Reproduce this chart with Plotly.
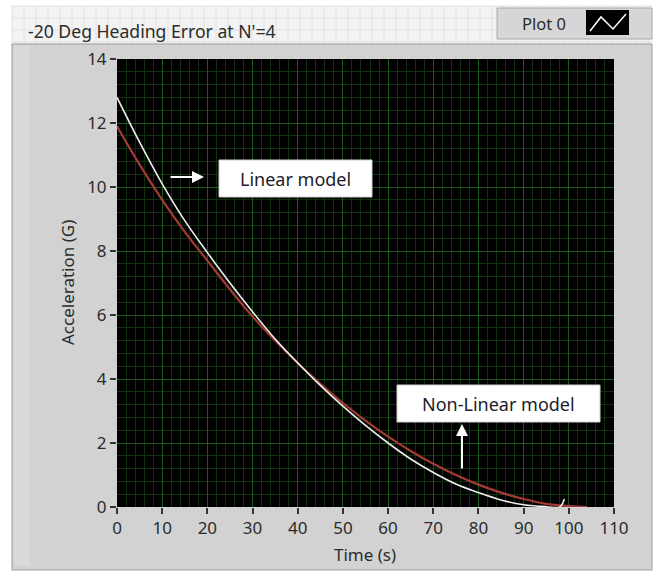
import plotly.graph_objects as go

W, H = 659, 572

# Guidance acceleration histories
time_linear = [0, 5, 10, 15, 20, 25, 30, 35, 40, 45, 50, 55, 60, 65, 70, 75,
               80, 85, 90, 95, 98, 99]
accel_linear = [12.8, 11.4, 10.1, 8.95, 7.95, 7.0, 6.1, 5.25, 4.5, 3.8, 3.15,
                2.55, 2.0, 1.5, 1.08, 0.72, 0.45, 0.22, 0.07, 0.01, 0.0, 0.25]

time_nonlinear = [0, 5, 10, 15, 20, 25, 30, 35, 40, 45, 50, 55, 60, 65, 70,
                  75, 80, 85, 90, 95, 100, 104]
accel_nonlinear = [11.9, 10.7, 9.6, 8.6, 7.7, 6.8, 5.95, 5.2, 4.5, 3.85, 3.25,
                   2.7, 2.2, 1.75, 1.35, 1.0, 0.7, 0.45, 0.25, 0.1, 0.03, 0.0]

x_ticks = [0, 10, 20, 30, 40, 50, 60, 70, 80, 90, 100, 110]
y_ticks = [0, 2, 4, 6, 8, 10, 12, 14]

title_text = "-20 Deg Heading Error at N'=4"
legend_text = "Plot 0"
x_title = "Time (s)"
y_title = "Acceleration (G)"
label_linear = "Linear model"
label_nonlinear = "Non-Linear model"

FONT = "Noto Sans"
TXT = "#2b2b2b"


def px(x):
    return x / W


def py(y):
    return 1 - y / H


# plot area in pixels
L, R, T, B = 117, 614, 59, 507

fig = go.Figure()
fig.add_trace(go.Scatter(x=time_nonlinear, y=accel_nonlinear, mode="lines",
                         line=dict(color="#a33a33", width=2.2, shape="spline"),
                         hoverinfo="skip"))
fig.add_trace(go.Scatter(x=time_linear, y=accel_linear, mode="lines",
                         line=dict(color="#eeeeee", width=1.6, shape="spline"),
                         hoverinfo="skip"))

shapes = []
# front panel grid strip
shapes.append(dict(type="rect", xref="paper", yref="paper", layer="below",
                   x0=px(12), x1=px(652), y0=py(46), y1=py(6),
                   fillcolor="#f3f3f3", line=dict(width=0)))
gx = 12
while gx <= 652:
    shapes.append(dict(type="line", xref="paper", yref="paper", layer="below",
                       x0=px(gx), x1=px(gx), y0=py(46), y1=py(6),
                       line=dict(color="#e2e2e2", width=1)))
    gx += 12
for gy in (6, 18, 30, 42):
    shapes.append(dict(type="line", xref="paper", yref="paper", layer="below",
                       x0=px(12), x1=px(652), y0=py(gy), y1=py(gy),
                       line=dict(color="#e2e2e2", width=1)))
# graph panel
shapes.append(dict(type="rect", xref="paper", yref="paper", layer="below",
                   x0=px(12), x1=px(652), y0=py(570), y1=py(44),
                   fillcolor="#d2d2d2", line=dict(color="#9c9c9c", width=1)))
shapes.append(dict(type="rect", xref="paper", yref="paper", layer="below",
                   x0=px(14), x1=px(30), y0=py(566), y1=py(46),
                   fillcolor="#dadada", line=dict(width=0)))
# plotting area
shapes.append(dict(type="rect", xref="paper", yref="paper", layer="below",
                   x0=px(L), x1=px(R), y0=py(B), y1=py(T),
                   fillcolor="#000000", line=dict(width=0)))
# plot legend box
shapes.append(dict(type="rect", xref="paper", yref="paper", layer="above",
                   x0=px(497), x1=px(652), y0=py(39), y1=py(8),
                   fillcolor="#d6d6d6", line=dict(color="#a8a8a8", width=1)))
shapes.append(dict(type="rect", xref="paper", yref="paper", layer="above",
                   x0=px(586), x1=px(629), y0=py(35), y1=py(10),
                   fillcolor="#000000", line=dict(width=0)))
pts = [(590, 31), (601, 17), (613, 29), (626, 14)]
path = "M " + " L ".join(f"{px(a):.5f},{py(b):.5f}" for a, b in pts)
shapes.append(dict(type="path", xref="paper", yref="paper", layer="above",
                   path=path, line=dict(color="#ffffff", width=1.5)))
# label boxes
shapes.append(dict(type="rect", xref="paper", yref="paper", layer="above",
                   x0=px(219), x1=px(372), y0=py(197), y1=py(160),
                   fillcolor="#ffffff", line=dict(color="#cfcfcf", width=1)))
shapes.append(dict(type="rect", xref="paper", yref="paper", layer="above",
                   x0=px(397), x1=px(600), y0=py(422), y1=py(385),
                   fillcolor="#ffffff", line=dict(color="#cfcfcf", width=1)))

annotations = [
    dict(text=title_text, xref="paper", yref="paper", x=px(26), y=py(31),
         xanchor="left", yanchor="middle", showarrow=False,
         font=dict(family=FONT, size=17.6, color=TXT)),
    dict(text=legend_text, xref="paper", yref="paper", x=px(544), y=py(23),
         xanchor="center", yanchor="middle", showarrow=False,
         font=dict(family=FONT, size=16.5, color=TXT)),
    dict(text=x_title, xref="paper", yref="paper", x=px(365), y=py(554),
         xanchor="center", yanchor="middle", showarrow=False,
         font=dict(family=FONT, size=17, color=TXT)),
    dict(text=y_title, xref="paper", yref="paper", x=px(67), y=py(283),
         xanchor="center", yanchor="middle", showarrow=False, textangle=-90,
         font=dict(family=FONT, size=17, color=TXT)),
    dict(text=label_linear, xref="paper", yref="paper", x=px(295), y=py(179),
         xanchor="center", yanchor="middle", showarrow=False,
         font=dict(family=FONT, size=18, color="#1c1c2a")),
    dict(text=label_nonlinear, xref="paper", yref="paper", x=px(498), y=py(404),
         xanchor="center", yanchor="middle", showarrow=False,
         font=dict(family=FONT, size=18, color="#1c1c2a")),
    dict(text="", xref="paper", yref="paper", x=px(204), y=py(177),
         ax=-35, ay=0, showarrow=True, arrowhead=2, arrowsize=1.2,
         arrowwidth=2, arrowcolor="#ffffff"),
    dict(text="", xref="paper", yref="paper", x=px(462), y=py(424),
         ax=0, ay=46, showarrow=True, arrowhead=2, arrowsize=1.2,
         arrowwidth=2, arrowcolor="#ffffff"),
]

axis_common = dict(showline=False, zeroline=False, automargin=False,
                   ticks="outside", ticklen=6, tickwidth=1.5,
                   tickcolor="#333333",
                   tickfont=dict(family=FONT, size=17, color=TXT),
                   showgrid=True, gridcolor="#1b5a1b", gridwidth=1)

fig.update_layout(
    template="none",
    width=W, height=H, autosize=False,
    margin=dict(l=0, r=0, t=0, b=0, pad=0),
    paper_bgcolor="#ffffff", plot_bgcolor="#000000",
    showlegend=False,
    xaxis=dict(domain=[px(L), px(R)], range=[0, 110], tickvals=x_ticks,
               minor=dict(dtick=2, showgrid=True, gridcolor="#0e300e",
                          gridwidth=1),
               **axis_common),
    yaxis=dict(domain=[py(B), py(T)], range=[0, 14], tickvals=y_ticks,
               minor=dict(dtick=0.4, showgrid=True, gridcolor="#0e300e",
                          gridwidth=1),
               **axis_common),
    shapes=shapes,
    annotations=annotations,
)

fig.write_html("out.html")
